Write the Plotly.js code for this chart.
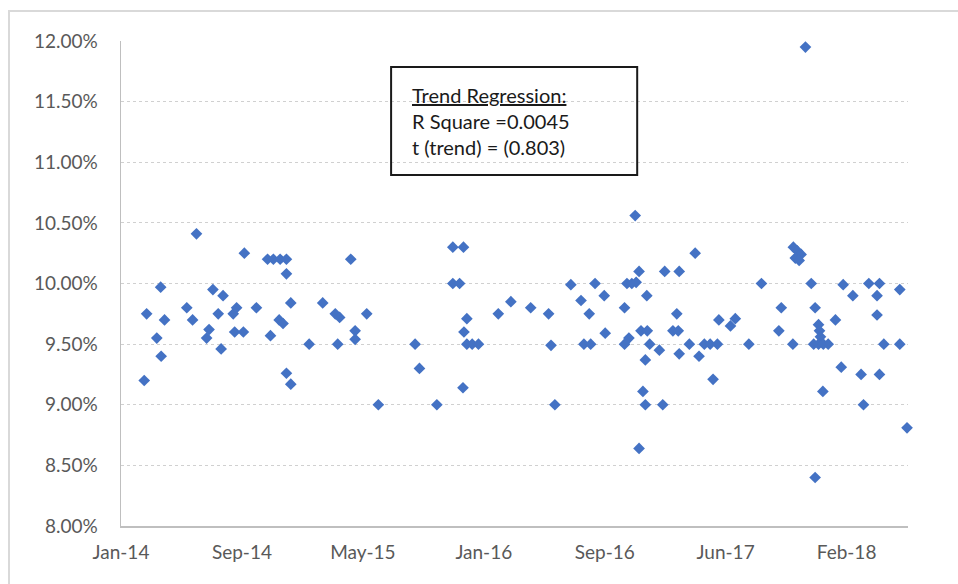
<!DOCTYPE html>
<html>
<head>
<meta charset="utf-8">
<script src="https://cdn.plot.ly/plotly-3.0.1.min.js"></script>
<style>
  html, body { margin: 0; padding: 0; background: #ffffff; }
  #frame { position: absolute; left: 8px; top: 10px; width: 1200px; height: 800px;
           border-left: 2px solid #d9d9d9; border-top: 2px solid #d9d9d9; }
  #chart { position: absolute; left: 0; top: 0; width: 958px; height: 584px; }
</style>
</head>
<body>
<div id="frame"></div>
<div id="chart"></div>
<script>
var obsDates = [
  "2014-02-18","2014-02-23","2014-03-16","2014-03-24","2014-03-25","2014-04-01",
  "2014-05-17","2014-05-29","2014-06-06","2014-06-27","2014-07-02","2014-07-10",
  "2014-07-21","2014-07-27","2014-07-31","2014-08-21","2014-08-28","2014-08-24",
  "2014-09-11","2014-09-13","2014-10-08","2014-10-31","2014-11-06","2014-11-12",
  "2014-11-24","2014-11-26","2014-12-02","2014-12-09","2014-12-09","2014-12-09",
  "2014-12-18","2014-12-18","2015-01-25","2015-02-22","2015-03-20","2015-03-29",
  "2015-03-25","2015-04-21","2015-04-30","2015-04-30","2015-05-24","2015-06-17",
  "2015-09-01","2015-09-10","2015-10-16","2015-11-18","2015-12-10","2015-11-18",
  "2015-12-02","2015-12-09","2015-12-11","2015-12-17","2015-12-17","2015-12-28",
  "2016-01-10","2016-02-20","2016-03-17","2016-04-27","2016-06-03","2016-06-08",
  "2016-06-16","2016-07-19","2016-08-09","2016-08-15","2016-08-26","2016-08-29",
  "2016-09-07","2016-09-26","2016-09-28","2016-11-07","2016-11-07","2016-11-16",
  "2016-11-12","2016-11-22","2016-11-29","2016-12-01","2016-12-07","2016-12-07",
  "2016-12-11","2016-12-15","2016-12-20","2016-12-20","2016-12-23","2016-12-24",
  "2016-12-29","2017-01-18","2017-01-25","2017-01-29","2017-02-15","2017-02-23",
  "2017-02-26","2017-02-28","2017-02-28","2017-03-21","2017-04-02","2017-04-10",
  "2017-04-21","2017-05-03","2017-05-09","2017-05-18","2017-05-21","2017-06-14",
  "2017-06-24","2017-07-22","2017-08-17","2017-09-22","2017-09-27","2017-10-21",
  "2017-10-22","2017-10-30","2017-11-07","2017-10-26","2017-11-03","2017-11-16",
  "2017-11-28","2017-12-03","2017-12-06","2017-12-06","2017-12-13","2017-12-15",
  "2017-12-17","2017-12-13","2017-12-23","2018-01-02","2017-12-22","2018-01-17",
  "2018-01-29","2018-02-02","2018-02-22","2018-03-11","2018-03-16","2018-03-27",
  "2018-04-13","2018-04-13","2018-04-18","2018-04-18","2018-04-27","2018-05-30",
  "2018-05-30","2018-06-14"
];
var rates = [
  9.20, 9.75, 9.55, 9.97, 9.40, 9.70,
  9.80, 9.70, 10.41, 9.55, 9.62, 9.95,
  9.75, 9.46, 9.90, 9.75, 9.80, 9.60,
  9.60, 10.25, 9.80, 10.20, 9.57, 10.20,
  9.70, 10.20, 9.67, 10.20, 10.08, 9.26,
  9.84, 9.17, 9.50, 9.84, 9.75, 9.72,
  9.50, 10.20, 9.61, 9.54, 9.75, 9.00,
  9.50, 9.30, 9.00, 10.30, 10.30, 10.00,
  10.00, 9.14, 9.60, 9.71, 9.50, 9.50,
  9.50, 9.75, 9.85, 9.80, 9.75, 9.49,
  9.00, 9.99, 9.86, 9.50, 9.75, 9.50,
  10.00, 9.90, 9.59, 9.80, 9.50, 9.55,
  10.00, 10.00, 10.56, 10.01, 10.10, 8.64,
  9.61, 9.11, 9.37, 9.00, 9.90, 9.61,
  9.50, 9.45, 9.00, 10.10, 9.61, 9.75,
  9.61, 10.10, 9.42, 9.50, 10.25, 9.40,
  9.50, 9.50, 9.21, 9.50, 9.70, 9.65,
  9.71, 9.50, 10.00, 9.61, 9.80, 9.50,
  10.30, 10.27, 10.24, 10.21, 10.19, 11.95,
  10.00, 9.50, 9.80, 8.40, 9.66, 9.61,
  9.56, 9.50, 9.50, 9.50, 9.11, 9.70,
  9.31, 9.99, 9.90, 9.25, 9.00, 10.00,
  9.90, 9.74, 10.00, 9.25, 9.50, 9.95,
  9.50, 8.81
];
var xTickVals = ["2014-01-01","2014-09-08","2015-05-16","2016-01-21","2016-09-27","2017-06-04","2018-02-09"];
var xTickText = ["Jan-14","Sep-14","May-15","Jan-16","Sep-16","Jun-17","Feb-18"];
var boxLines = ["<u>Trend Regression:</u>", "R Square =0.0045", "t (trend) = (0.803)"];

var trace = {
  type: "scatter",
  mode: "markers",
  x: obsDates,
  y: rates,
  cliponaxis: false,
  marker: { symbol: "diamond", size: 9, color: "#4472C4", line: { width: 0 } },
  hoverinfo: "skip"
};

var tickFont = { family: "Lato, 'Open Sans', sans-serif", size: 19, color: "#595959" };

var layout = {
  width: 958,
  height: 584,
  autosize: false,
  margin: { l: 121, r: 50, t: 41, b: 58, pad: 0 },
  paper_bgcolor: "rgba(0,0,0,0)",
  plot_bgcolor: "rgba(0,0,0,0)",
  showlegend: false,
  xaxis: {
    type: "date",
    range: ["2014-01-01", "2018-06-16"],
    tickmode: "array",
    tickvals: xTickVals,
    ticktext: xTickText,
    showgrid: false,
    zeroline: false,
    showline: true,
    linecolor: "#bfbfbf",
    linewidth: 2,
    ticks: "",
    ticklabelstandoff: 8,
    tickfont: tickFont
  },
  yaxis: {
    range: [8, 12],
    dtick: 0.5,
    tick0: 8,
    tickformat: ".2f",
    ticksuffix: "%",
    showgrid: true,
    gridcolor: "#d0d0d0",
    gridwidth: 1,
    griddash: "dot",
    zeroline: false,
    showline: true,
    linecolor: "#bfbfbf",
    linewidth: 1.5,
    ticks: "",
    ticklabelstandoff: 18,
    tickfont: tickFont
  },
  shapes: [{
    type: "rect",
    xref: "paper", yref: "paper",
    x0: 0.3432, x1: 0.6559, y0: 0.7236, y1: 0.9464,
    line: { color: "#1a1a1a", width: 2 },
    fillcolor: "rgba(0,0,0,0)"
  }],
  annotations: [{
    xref: "paper", yref: "paper",
    x: 0.3667, y: 0.835,
    xanchor: "left", yanchor: "middle",
    align: "left",
    showarrow: false,
    text: boxLines.join("<br>"),
    font: { family: "Lato, 'Open Sans', sans-serif", size: 20, color: "#1a1a1a" }
  }]
};

Plotly.newPlot("chart", [trace], layout, { displayModeBar: false, staticPlot: true });
</script>
</body>
</html>
